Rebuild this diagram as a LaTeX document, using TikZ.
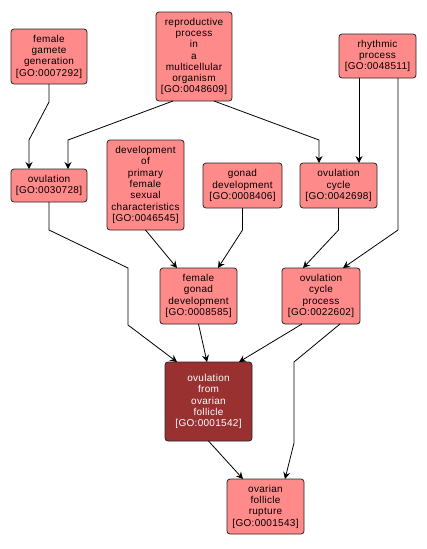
\documentclass[tikz,border=0pt]{standalone}
\usepackage{fontspec}
\usepackage{xcolor}
\usetikzlibrary{arrows.meta}
\newfontfamily\gofont[LetterSpace=3]{Liberation Sans}
\definecolor{termfill}{RGB}{255,138,138}
\definecolor{mainfill}{RGB}{153,49,49}

\begin{document}
\begin{tikzpicture}[
  x=1pt, y=-1pt,
  every node/.style={font=\gofont\fontsize{10}{11.3}\selectfont},
  term/.style={draw=black!85, line width=0.8pt, rounded corners=3pt, fill=termfill, align=center, inner sep=0pt, outer sep=0pt},
  mainterm/.style={term, fill=mainfill, text=white},
  arrow/.style={-{Stealth[length=7pt, width=7pt, inset=2.5pt]}, line width=0.8pt}
]
  \useasboundingbox (0,0) rectangle (427,549);

  \node[term, minimum width=76pt, minimum height=55pt] (fgg) at (49,56.5) {female\\gamete\\generation\\{[GO:0007292]}};
  \node[term, minimum width=76pt, minimum height=89pt] (repr) at (194,56.5) {reproductive\\process\\in\\a\\multicellular\\organism\\{[GO:0048609]}};
  \node[term, minimum width=77pt, minimum height=44pt] (rhythm) at (377.5,56) {rhythmic\\process\\{[GO:0048511]}};
  \node[term, minimum width=76pt, minimum height=33pt] (ovul) at (49,185.5) {ovulation\\{[GO:0030728]}};
  \node[term, minimum width=77pt, minimum height=90pt] (devp) at (145.5,185) {development\\of\\primary\\female\\sexual\\characteristics\\{[GO:0046545]}};
  \node[term, minimum width=79pt, minimum height=45pt] (gonad) at (242.5,185.5) {gonad\\development\\{[GO:0008406]}};
  \node[term, minimum width=77pt, minimum height=45pt] (ocyc) at (338.5,185.5) {ovulation\\cycle\\{[GO:0042698]}};
  \node[term, minimum width=77pt, minimum height=56pt] (fgd) at (198.5,296) {female\\gonad\\development\\{[GO:0008585]}};
  \node[term, minimum width=78pt, minimum height=56pt] (ocp) at (321,296) {ovulation\\cycle\\process\\{[GO:0022602]}};
  \node[mainterm, minimum width=87pt, minimum height=79pt] (ofof) at (208.5,401.5) {ovulation\\from\\ovarian\\follicle\\{[GO:0001542]}};
  \node[term, minimum width=77pt, minimum height=55pt] (rupt) at (265.5,506.5) {ovarian\\follicle\\rupture\\{[GO:0001543]}};

  \draw[arrow] (fgg.south) -- (49,102) -- (29,140) -- (ovul.north -| 29,0);
  \draw[arrow] (repr.south -| 173,0) -- (68,140) -- (ovul.north -| 68,0);
  \draw[arrow] (repr.south -| 214,0) -- (319,140) -- (ocyc.north -| 319,0);
  \draw[arrow] (rhythm.south -| 359,0) -- (ocyc.north -| 359,0);
  \draw[arrow] (rhythm.south -| 398,0) -- (398,230) -- (ocp.north -| 343,0);
  \draw[arrow] (devp.south) -- (fgd.north -| 177,0);
  \draw[arrow] (gonad.south) -- (242.5,230) -- (fgd.north -| 218,0);
  \draw[arrow] (ocyc.south) -- (338.5,230) -- (ocp.north -| 303,0);
  \draw[arrow] (ovul.south) -- (49,230) -- (128,268) -- (128,325) -- (ofof.north -| 177,0);
  \draw[arrow] (fgd.south) -- (ofof.north -| 207,0);
  \draw[arrow] (ocp.south -| 302,0) -- (ofof.north -| 239,0);
  \draw[arrow] (ocp.south -| 340,0) -- (294,362) -- (294,443) -- (rupt.north -| 285,0);
  \draw[arrow] (ofof.south) -- (rupt.north -| 243,0);
\end{tikzpicture}
\end{document}
